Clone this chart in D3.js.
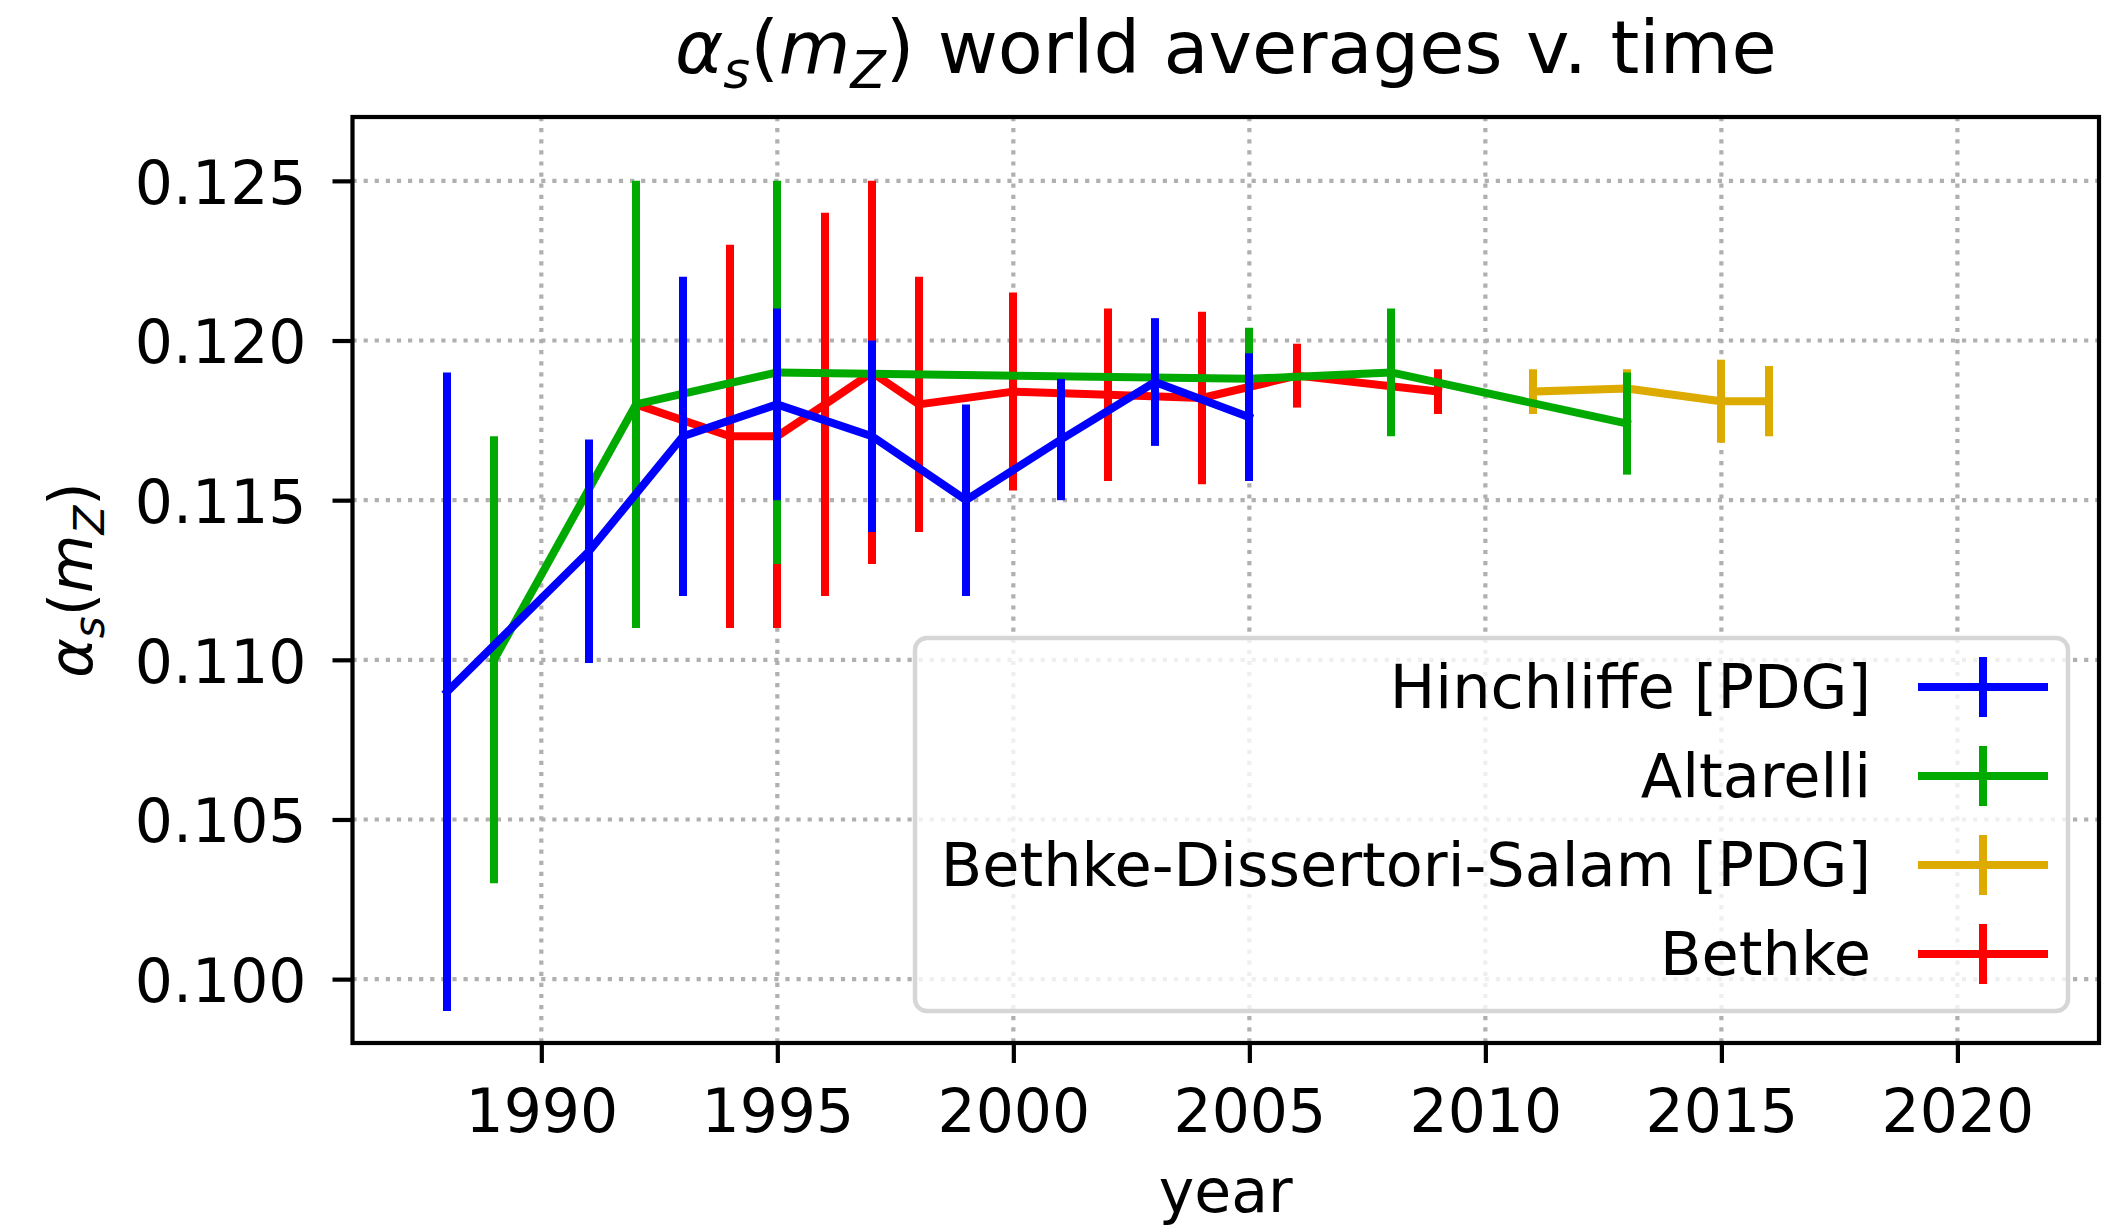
<!DOCTYPE html>
<html>
<head>
<meta charset="utf-8">
<script src="https://cdn.jsdelivr.net/npm/d3@7"></script>
<style>
  html, body { margin: 0; padding: 0; background: #ffffff; }
  svg { display: block; font-family: "DejaVu Sans", sans-serif; }
</style>
</head>
<body>
<svg id="chart" width="2111" height="1225"></svg>
<script>
// World averages of the strong coupling alpha_s(m_Z), by year of publication.
const hinchliffeYears  = [1988, 1991, 1993, 1995, 1997, 1999, 2001, 2003, 2005];
const hinchliffeValues = [0.109, 0.1134, 0.117, 0.118, 0.117, 0.115, 0.1169, 0.1187, 0.1176];
const hinchliffeErrors = [0.010, 0.0035, 0.005, 0.003, 0.003, 0.003, 0.0019, 0.0020, 0.0020];

const altarelliYears  = [1989, 1992, 1995, 2005, 2008, 2013];
const altarelliValues = [0.110, 0.118, 0.119, 0.1188, 0.119, 0.1174];
const altarelliErrors = [0.007, 0.007, 0.006, 0.0016, 0.002, 0.0016];

const bdsYears  = [2011, 2013, 2015, 2016];
const bdsValues = [0.1184, 0.1185, 0.1181, 0.1181];
const bdsErrors = [0.0007, 0.0006, 0.0013, 0.0011];

const bethkeYears  = [1992, 1994, 1995, 1996, 1997, 1998, 2000, 2002, 2004, 2006, 2009];
const bethkeValues = [0.118, 0.117, 0.117, 0.118, 0.119, 0.118, 0.1184, 0.1183, 0.1182, 0.1189, 0.1184];
const bethkeErrors = [0.006, 0.006, 0.006, 0.006, 0.006, 0.004, 0.0031, 0.0027, 0.0027, 0.0010, 0.0007];

const xTicks = [1990, 1995, 2000, 2005, 2010, 2015, 2020];
const yTicks = [0.100, 0.105, 0.110, 0.115, 0.120, 0.125];

const seriesNames  = ["Hinchliffe [PDG]", "Altarelli", "Bethke-Dissertori-Salam [PDG]", "Bethke"];
const seriesColors = ["#0000ff", "#00aa00", "#ddaa00", "#ff0000"];

const zip = (xs, vs, es) => xs.map((x, i) => ({ x: x, v: vs[i], e: es[i] }));
const series = [
  { name: seriesNames[0], color: seriesColors[0], pts: zip(hinchliffeYears, hinchliffeValues, hinchliffeErrors) },
  { name: seriesNames[1], color: seriesColors[1], pts: zip(altarelliYears, altarelliValues, altarelliErrors) },
  { name: seriesNames[2], color: seriesColors[2], pts: zip(bdsYears, bdsValues, bdsErrors) },
  { name: seriesNames[3], color: seriesColors[3], pts: zip(bethkeYears, bethkeValues, bethkeErrors) }
];
// painting order: Bethke at the bottom, Hinchliffe on top
const drawOrder = [3, 2, 1, 0];

const FONT = 60.5;
const LW = 8;
const plot = { left: 352.5, right: 2099, top: 117, bottom: 1043 };

const svg = d3.select("#chart");
const x = d3.scaleLinear().domain([1986, 2023]).range([plot.left, plot.right]);
const y = d3.scaleLinear().domain([0.098, 0.127]).range([plot.bottom, plot.top]);

// dotted grid
const grid = svg.append("g").attr("stroke", "#b0b0b0").attr("stroke-width", 4.2)
  .attr("stroke-dasharray", "4.2,6.9").attr("fill", "none");
grid.selectAll("line.gx").data(xTicks).join("line").attr("class", "gx")
  .attr("x1", d => x(d)).attr("x2", d => x(d)).attr("y1", plot.top).attr("y2", plot.bottom);
grid.selectAll("line.gy").data(yTicks).join("line").attr("class", "gy")
  .attr("x1", plot.left).attr("x2", plot.right).attr("y1", d => y(d)).attr("y2", d => y(d));

// error bars (snapped to whole pixels so stacked bars don't bleed) and connecting lines
const bx = d => Math.round(x(d.x));
const line = d3.line().x(bx).y(d => y(d.v));
const marks = svg.append("g");
drawOrder.forEach(i => {
  const s = series[i];
  const g = marks.append("g");
  g.append("path").datum(s.pts).attr("d", line).attr("fill", "none")
    .attr("stroke", s.color).attr("stroke-width", LW)
    .attr("stroke-linecap", "square").attr("stroke-linejoin", "round");
  g.selectAll("line").data(s.pts).join("line")
    .attr("x1", bx).attr("x2", bx)
    .attr("y1", d => y(d.v - d.e)).attr("y2", d => y(d.v + d.e))
    .attr("stroke", s.color).attr("stroke-width", LW);
});

// axes
const xAxis = svg.append("g").attr("transform", `translate(0,${plot.bottom})`)
  .call(d3.axisBottom(x).tickValues(xTicks).tickFormat(d3.format("d")).tickSize(20).tickPadding(26));
const yAxis = svg.append("g").attr("transform", `translate(${plot.left},0)`)
  .call(d3.axisLeft(y).tickValues(yTicks).tickFormat(d3.format(".3f")).tickSize(20).tickPadding(26));
[xAxis, yAxis].forEach(a => {
  a.select(".domain").remove();
  a.selectAll(".tick line").attr("stroke", "#000").attr("stroke-width", 4.2);
  a.selectAll(".tick text").attr("fill", "#000").style("font-size", "60px")
    .style("font-family", "'DejaVu Sans', sans-serif");
});
yAxis.selectAll(".tick text").attr("dy", "0.37em");

// spines
svg.append("rect").attr("x", plot.left).attr("y", plot.top)
  .attr("width", plot.right - plot.left).attr("height", plot.bottom - plot.top)
  .attr("fill", "none").attr("stroke", "#000").attr("stroke-width", 4.2);

// legend
const legend = svg.append("g");
legend.append("rect").attr("x", 915).attr("y", 638).attr("width", 1153).attr("height", 373)
  .attr("rx", 12).attr("ry", 12)
  .attr("fill", "#ffffff").attr("fill-opacity", 0.8)
  .attr("stroke", "#cccccc").attr("stroke-opacity", 0.8).attr("stroke-width", 4.5);
const rowBase = [708, 797, 886, 975];
series.forEach((s, i) => {
  const b = rowBase[i];
  legend.append("text").attr("x", 1871).attr("y", b).attr("text-anchor", "end")
    .style("font-size", FONT + "px").attr("fill", "#000").text(s.name);
  const cy = b - 21;
  legend.append("line").attr("x1", 1918).attr("x2", 2048).attr("y1", cy).attr("y2", cy)
    .attr("stroke", s.color).attr("stroke-width", LW);
  legend.append("line").attr("x1", 1983).attr("x2", 1983).attr("y1", cy - 30).attr("y2", cy + 30)
    .attr("stroke", s.color).attr("stroke-width", LW);
});

// alpha_s(m_Z) with italic symbols and subscripts
function mathLabel(t, size) {
  const sub = size * 0.7;
  const shift = size * 0.2;
  t.append("tspan").style("font-style", "italic").text("\u03b1");
  t.append("tspan").style("font-style", "italic").style("font-size", sub + "px").attr("dy", shift).text("s");
  t.append("tspan").attr("dy", -shift).text("(");
  t.append("tspan").style("font-style", "italic").text("m");
  t.append("tspan").style("font-style", "italic").style("font-size", sub + "px").attr("dy", shift).text("Z");
  t.append("tspan").attr("dy", -shift).text(")");
}

// title
const title = svg.append("text").attr("x", (plot.left + plot.right) / 2).attr("y", 73)
  .attr("text-anchor", "middle").style("font-size", "73.5px").attr("fill", "#000");
mathLabel(title, 73.5);
title.append("tspan").text(" world averages v. time");

// axis labels
svg.append("text").attr("x", (plot.left + plot.right) / 2).attr("y", 1212)
  .attr("text-anchor", "middle").style("font-size", "60px").attr("fill", "#000").text("year");
const yl = svg.append("text").attr("transform", `translate(92,${(plot.top + plot.bottom) / 2}) rotate(-90)`)
  .attr("text-anchor", "middle").style("font-size", "60px").attr("fill", "#000");
mathLabel(yl, 60);
</script>
</body>
</html>
